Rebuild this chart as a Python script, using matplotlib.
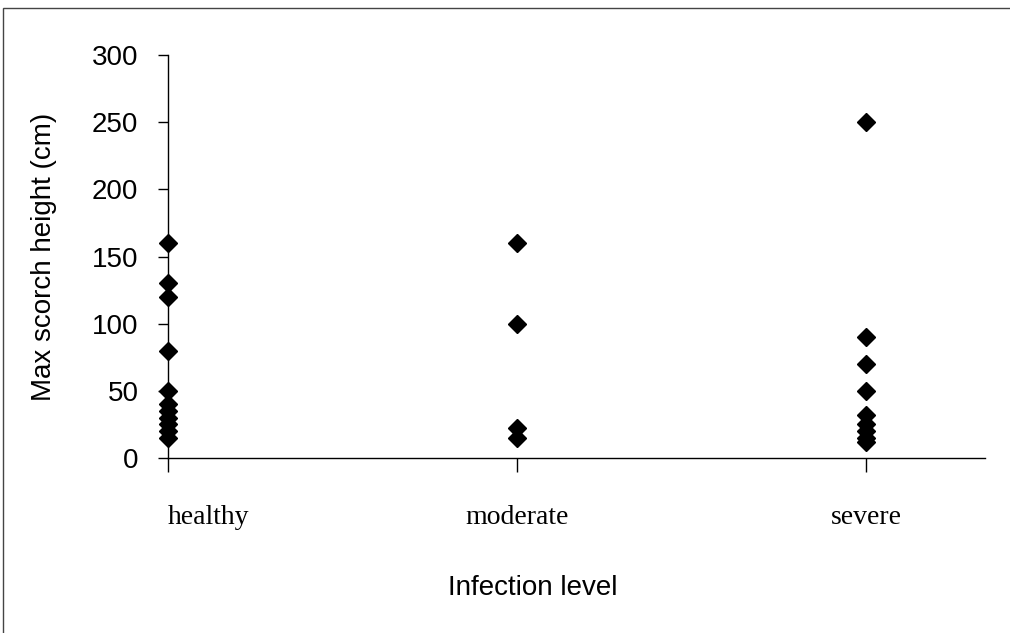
import matplotlib.pyplot as plt
from matplotlib.patches import Rectangle

# Max scorch height (cm) per tree, grouped by infection level
categories = ["healthy", "moderate", "severe"]
healthy = [160, 130, 120, 80, 50, 40, 35, 30, 25, 20, 15]
moderate = [160, 100, 22, 15]
severe = [250, 90, 70, 50, 32, 25, 20, 15, 12]

yticks = [0, 50, 100, 150, 200, 250, 300]

fig = plt.figure(figsize=(10.1, 6.33), dpi=100)
ax = fig.add_axes([0.166, 0.2765, 0.809, 0.6365])

for i, vals in enumerate([healthy, moderate, severe], start=1):
    ax.plot([i] * len(vals), vals, linestyle="none", marker="D",
            markersize=9.5, color="black", clip_on=False, zorder=3)

ax.set_xlim(1, 3.34)
ax.set_ylim(0, 300)
ax.set_yticks(yticks)
ax.set_xticks([1, 2, 3])
ax.set_xticklabels(categories, fontfamily="Liberation Serif", fontsize=20)
ax.tick_params(axis="x", direction="out", length=10, width=1, pad=24)
ax.tick_params(axis="y", direction="out", length=7, width=1, pad=14,
               labelsize=20)
for lbl in ax.get_yticklabels():
    lbl.set_fontfamily("Liberation Sans")
# first category label sits to the right of the axis in the original
ax.get_xticklabels()[0].set_horizontalalignment("left")

ax.spines["top"].set_visible(False)
ax.spines["right"].set_visible(False)
ax.spines["left"].set_linewidth(1)
ax.spines["bottom"].set_linewidth(1)

ax.set_ylabel("Max scorch height (cm)", fontfamily="Liberation Sans",
              fontsize=20)
ax.yaxis.set_label_coords(-0.135, 0.5)
ax.set_xlabel("Infection level", fontfamily="Liberation Sans", fontsize=20)
ax.xaxis.set_label_coords(0.447, -0.29)

# thin outer frame of the chart area (left and top edges visible)
fig.patches.append(Rectangle((0.003, -0.1), 1.2, 0.1 + 1 - 8 / 633,
                             transform=fig.transFigure, fill=False,
                             edgecolor="#444444", linewidth=1))

fig.savefig("out.png", dpi=100)
